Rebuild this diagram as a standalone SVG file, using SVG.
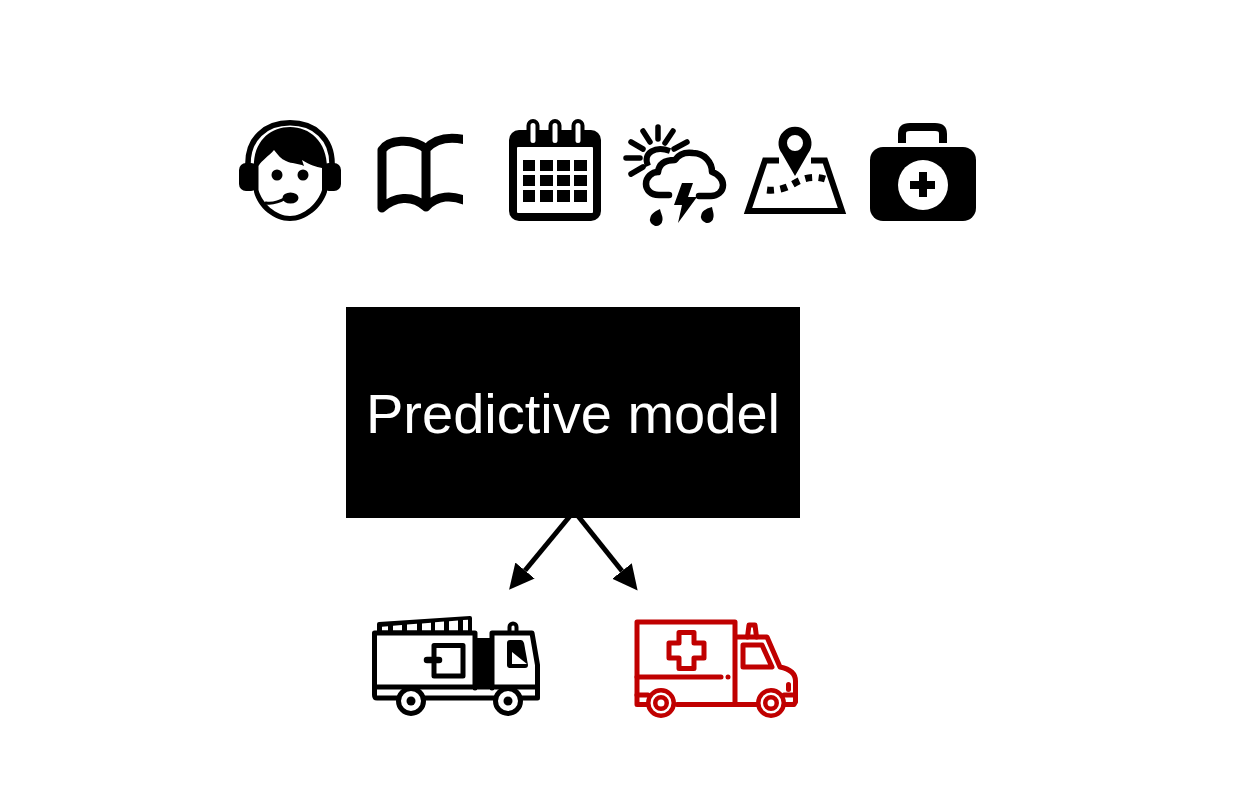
<svg xmlns="http://www.w3.org/2000/svg" width="1248" height="812" viewBox="0 0 1248 812">
<style>
.k{fill:#000}.w{fill:#fff}
.s{fill:none;stroke:#000;stroke-linecap:round;stroke-linejoin:round}
.b{fill:none;stroke:#000;stroke-linecap:butt;stroke-linejoin:miter}
.r{fill:none;stroke:#c00000;stroke-width:5;stroke-linecap:round;stroke-linejoin:round}
.rf{fill:#c00000}
.arrow{stroke:#000;stroke-width:5;fill:none}
.label{font-family:"Liberation Sans",Arial,sans-serif;font-size:56px;fill:#fff;text-anchor:middle}
</style>
<defs>
<marker id="head" markerUnits="userSpaceOnUse" markerWidth="26" markerHeight="26" refX="0" refY="13" orient="auto">
<path d="M0,0.5 L25,13 L0,25.5 Z" fill="#000"/>
</marker>
<clipPath id="bookclip"><rect x="370" y="125" width="93" height="95"/></clipPath>
</defs>
<rect width="1248" height="812" fill="#fff"/>

<g id="agent">
<path class="s" stroke-width="5.600" d="M248,166 C247,138 266,122.800 290,122.800 C314,122.800 333,138 332,166"/>
<path class="k" d="M254,170 C252,142 270,127 290,127 C310,127 328,142 327,170 L327,192 C322,208 306,221 290,221 C274,221 258,208 254,192 Z"/>
<path class="w" d="M258.500,166 C262,160 269,156 274,150 C278,155 281,159 286,161 C292,164 298,163 304,166 L302,160 C310,165 316,167 322,168 L322,190 C318,203 304,216 290,216 C276,216 262,203 258.500,190 Z"/>
<rect class="k" x="239" y="163" width="19" height="28" rx="7"/>
<rect class="k" x="322" y="163" width="19" height="28" rx="7"/>
<circle class="k" cx="277" cy="175" r="5.500"/>
<circle class="k" cx="303" cy="175" r="5.500"/>
<path class="s" stroke-width="3" d="M266,203 C272,204 279,202 286,198"/>
<ellipse class="k" cx="290.500" cy="198" rx="8" ry="5.500"/>
</g>

<g id="book">
<g clip-path="url(#bookclip)">
<path class="s" stroke-width="9" d="M382,150 C388,140 412,137 426,149 C436,138 452,136 470,141 M382,150 V208 C394,197 412,194 426,207 C436,196 452,193 470,203 M426,149 V207"/>
</g>
</g>

<g id="calendar">
<rect class="k" x="509" y="130" width="92" height="91" rx="10"/>
<rect class="w" x="517" y="147" width="76" height="66" rx="1"/>
<g class="k">
<rect x="523" y="160" width="12" height="11"/><rect x="540" y="160" width="13" height="11"/><rect x="557" y="160" width="13" height="11"/><rect x="574" y="160" width="13" height="11"/>
<rect x="523" y="175" width="12" height="11"/><rect x="540" y="175" width="13" height="11"/><rect x="557" y="175" width="13" height="11"/><rect x="574" y="175" width="13" height="11"/>
<rect x="523" y="190" width="12" height="12"/><rect x="540" y="190" width="13" height="12"/><rect x="557" y="190" width="13" height="12"/><rect x="574" y="190" width="13" height="12"/>
</g>
<g fill="#fff" stroke="#000" stroke-width="4">
<rect x="528.500" y="121" width="9" height="24" rx="4.500"/>
<rect x="550.500" y="121" width="9" height="24" rx="4.500"/>
<rect x="573.500" y="121" width="9" height="24" rx="4.500"/>
</g>
</g>

<g id="weather">
<path class="s" stroke-width="5.500" d="M658,127 V139 M643,131 L650,142 M673,131 L665,143 M687,142 L674,149 M631,142 L643,149 M626,158 H640 M631,174 L643,167"/>
<path class="b" stroke-width="6" d="M648,166 C642,152 656,146 670,151"/>
<path class="s" stroke-width="6.500" d="M669,195 H659 C650,195 646,189 646,184 C646,177 652,172 658,172 C659,164 665,160 675,160 C679,154 686,152 693,153 C704,153 712,162 712,172 C719,174 723,180 723,185 C723,192 717,196 711,196 H699"/>
<polygon class="k" points="682,183 693,183 688,197 697,197 678,223 682,205 674,205"/>
<path class="k" d="M660,209 C661,214 663,216 662.500,220 A6.300,6.300 0 1 1 650.500,217 C652,213 656,211 660,209 Z"/>
<path class="k" d="M712,207 C713,212 714,214 713.500,217 A6.300,6.300 0 1 1 701.500,214 C703,210 708,208 712,207 Z"/>
</g>

<g id="map">
<path class="b" stroke-width="6" d="M779,160.500 H765 L748,211 H842 L825,160.500 H811"/>
<path class="k" fill-rule="evenodd" d="M795,176 L782,153.500 A16.500,16.500 0 1 1 808,153.500 Z M795,135 A8,8 0 1 0 795,151 A8,8 0 1 0 795,135 Z"/>
<path class="b" stroke-width="7" stroke-dasharray="7,6.500" d="M767,190 C775,191 785,189 795,183 C805,177 815,176 825,179"/>
</g>

<g id="medkit">
<path class="b" stroke-width="8" d="M902,143 V134 Q902,127 910,127 H935 Q943,127 943,134 V143"/>
<rect class="k" x="870" y="147" width="106" height="74" rx="13"/>
<circle class="w" cx="923" cy="185" r="25"/>
<path class="k" d="M919,172 H927 V181 H935 V189 H927 V197 H919 V189 H910 V181 H919 Z"/>
</g>

<g id="model">
<rect class="k" x="346" y="307" width="454" height="211"/>
<text class="label" x="573" y="433">Predictive model</text>
</g>

<g id="connectors">
<line class="arrow" x1="570" y1="516" x2="525" y2="570.500" marker-end="url(#head)"/>
<line class="arrow" x1="578" y1="516" x2="622" y2="571" marker-end="url(#head)"/>
</g>

<g id="fire-truck">
<path class="k" d="M377,624 Q377,622 379,622 L470,616 Q472,616 472,618 V633 H377 Z"/>
<g class="w">
<polygon points="382,626.700 388,626.200 388,630.500 382,630.500"/>
<polygon points="393,625.800 402,625 402,630.500 393,630.500"/>
<polygon points="407,624.600 417,623.800 417,630.500 407,630.500"/>
<polygon points="422,623.400 431,622.700 431,630.500 422,630.500"/>
<polygon points="435,622.300 444,621.600 444,630.500 435,630.500"/>
<polygon points="449,621.200 458,620.500 458,630.500 449,630.500"/>
<polygon points="463,620.100 468,619.700 468,630.500 463,630.500"/>
</g>
<path class="k" d="M477,638 H493 V687 H477 Z"/>
<path class="s" stroke-width="5" d="M475,633 H374.500 V695 Q374.500,698 377,698 H537.500 L537.500,665 L532,633 H492 V688 M475,633 V688 M374.500,687 H537.500"/>
<path class="s" stroke-width="4" d="M509.500,632 V627 A3.500,3.500 0 0 1 516.500,627 V632"/>
<rect x="434" y="645.500" width="29" height="30.500" fill="#fff" stroke="#000" stroke-width="5" stroke-linejoin="round"/>
<path class="s" stroke-width="6.500" d="M427,660 H439"/>
<path class="k" d="M507,643 Q507,640 510,640 H521 Q523,640 524,643 L528,665 Q528,668 525,668 H510 Q507,668 507,665 Z"/>
<polygon class="w" points="512,652 527,664 512,664"/>
<circle cx="411" cy="701" r="12.500" fill="#fff" stroke="#000" stroke-width="5"/>
<circle class="k" cx="411" cy="701" r="4.500"/>
<circle cx="508" cy="701" r="12.500" fill="#fff" stroke="#000" stroke-width="5"/>
<circle class="k" cx="508" cy="701" r="4.500"/>
</g>

<g id="ambulance">
<path class="r" d="M650,704.500 H637 V622 H735 V704 M677,704.500 H757 M735,637 H767 L780,667 C790,669 795.500,674 795.500,681 V702 L794,704.500 H785"/>
<path class="r" d="M637,695 H648 M784,695 H795"/>
<path class="r" d="M637,677 H721"/>
<circle class="rf" cx="728" cy="677" r="2.500"/>
<path class="r" d="M679,632.500 H694 V643 H704 V658 H694 V668.500 H679 V658 H669 V643 H679 Z"/>
<path class="r" d="M743,645 H762 L772,667 H743 Z"/>
<path class="r" d="M747.500,637 L749,625 H755 L756.500,637"/>
<rect class="rf" x="786" y="682" width="5" height="10" rx="2.500"/>
<g fill="#fff" stroke="#c00000" stroke-width="4.500">
<circle cx="661" cy="703" r="12.750"/><circle cx="661" cy="703" r="5.750"/>
<circle cx="771" cy="703" r="12.750"/><circle cx="771" cy="703" r="5.750"/>
</g>
</g>
</svg>
